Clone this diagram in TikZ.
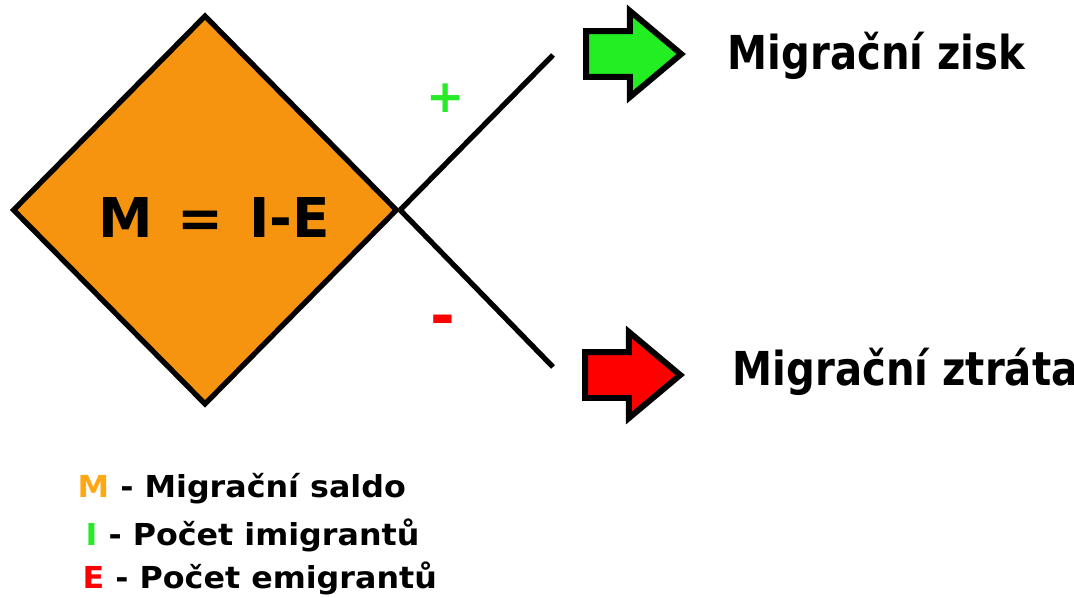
\documentclass[tikz,border=0pt]{standalone}
\usepackage{fontspec}
\setmainfont{DejaVu Sans}
\newfontfamily\uzky[FakeStretch=0.86]{DejaVu Sans}
\newfontfamily\siroky[FakeStretch=1.05]{DejaVu Sans}
\usepackage{tikz}
\usetikzlibrary{shapes.geometric}
\usetikzlibrary{shapes.arrows}
\usetikzlibrary{positioning}
\definecolor{saldoorange}{RGB}{247,148,15}
\definecolor{ziskgreen}{RGB}{34,238,34}
\definecolor{plusgreen}{RGB}{40,235,40}
\definecolor{legorange}{RGB}{255,168,20}
\tikzset{saldo/.style={diamond,draw=black,fill=saldoorange,line width=1.5pt,minimum width=3.85cm,minimum height=3.9cm,inner sep=0pt}}
\tikzset{vetev/.style={line width=1.5pt}}
\tikzset{sipka/.style={single arrow,draw=black,line width=1.7pt,inner sep=0.2cm,minimum height=0.95cm,single arrow head extend=0.2cm,single arrow tip angle=80}}
\tikzset{popis/.style={anchor=base west,inner sep=0pt,font=\uzky\fontsize{13.3}{16}\selectfont\bfseries}}
\tikzset{legenda/.style={anchor=base west,inner sep=0pt,font=\siroky\fontsize{8.6}{10}\selectfont\bfseries}}

\begin{document}
\begin{tikzpicture}
\useasboundingbox (0,0) rectangle (10.74,5.97);

\node[saldo] (M) at (2.05,3.87) {};
\node[inner sep=0pt,font=\fontsize{15.6}{18}\selectfont\bfseries] (vzorec) at (2.14,3.79) {M\kern1.8pt{} = \kern1.8pt{}I-E};

\coordinate (horni) at (5.53,5.42);
\coordinate (dolni) at (5.53,2.30);
\draw[vetev] (M.east) -- (horni);
\draw[vetev] (M.east) -- (dolni);

\node[text=plusgreen,font=\fontsize{13}{15}\selectfont\bfseries] (plus) at (4.46,4.99) {+};
\node[text=red,font=\fontsize{17}{19}\selectfont\bfseries] (minus) at (4.43,2.71) {-};

% sipky
\node[sipka,fill=ziskgreen] (S1) at (6.20,5.43) {};
\node[sipka,fill=red] (S2) at (6.19,2.22) {};
\node[popis] (zisk) at (7.27,5.27) {Migrační zisk};
\node[popis] (ztrata) at (7.32,2.12) {Migrační ztráta};

% legenda
\node[legenda] (L1) at (0.77,1.00) {\textcolor{legorange}{M} - Migrační saldo};
\node[legenda] (L2) at (0.85,0.52) {\textcolor{plusgreen}{I} - Počet imigrantů};
\node[legenda] (L3) at (0.82,0.09) {\textcolor{red}{E} - Počet emigrantů};

\end{tikzpicture}
\end{document}
